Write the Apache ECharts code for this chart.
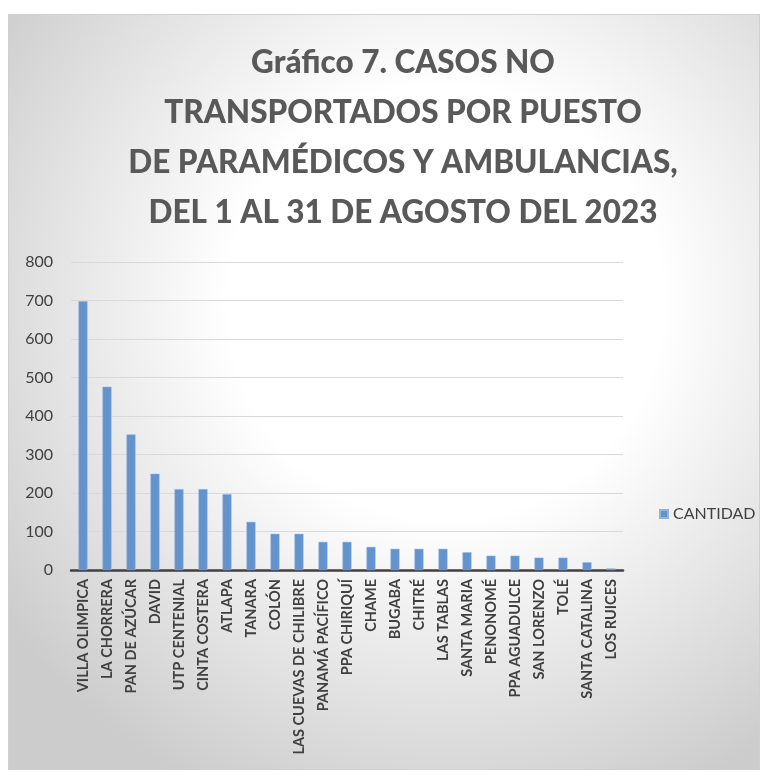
<!DOCTYPE html>
<html>
<head>
<meta charset="utf-8">
<script src="https://cdn.jsdelivr.net/npm/echarts@6/dist/echarts.min.js"></script>
<style>
  html, body { margin: 0; padding: 0; background: #ffffff; }
  #chart { position: absolute; left: 8px; top: 14px; width: 752px; height: 756px; border: 1px solid #d0d0d0; box-sizing: border-box; }
</style>
</head>
<body>
<div id="chart"></div>
<script>
// datos
const categorias = ['VILLA OLIMPICA', 'LA CHORRERA', 'PAN DE AZÚCAR', 'DAVID', 'UTP CENTENIAL', 'CINTA COSTERA',
  'ATLAPA', 'TANARA', 'COLÓN', 'LAS CUEVAS DE CHILIBRE', 'PANAMÁ PACÍFICO', 'PPA CHIRIQUÍ', 'CHAME', 'BUGABA',
  'CHITRÉ', 'LAS TABLAS', 'SANTA MARIA', 'PENONOMÉ', 'PPA AGUADULCE', 'SAN LORENZO', 'TOLÉ', 'SANTA CATALINA', 'LOS RUICES'];
const cantidad = [698, 476, 352, 250, 210, 210, 197, 125, 94, 94, 73, 73, 60, 55, 55, 55, 46, 37, 37, 32, 32, 20, 4];
const ticksY = [0, 100, 200, 300, 400, 500, 600, 700, 800];

const titulo = 'Gráfico 7. CASOS NO\nTRANSPORTADOS POR PUESTO\nDE PARAMÉDICOS Y AMBULANCIAS,\nDEL 1 AL 31 DE AGOSTO DEL 2023';

const myChart = echarts.init(document.getElementById('chart'));
const option = {
  animation: false,
  graphic: [{
    type: 'rect', z: -10, silent: true,
    shape: { x: 0, y: 0, width: 752, height: 756 },
    style: {
      fill: new echarts.graphic.RadialGradient(0.58, 0.38, 0.72, [
        { offset: 0, color: '#ffffff' },
        { offset: 0.4, color: '#ffffff' },
        { offset: 1, color: '#cccccc' }
      ])
    }
  }],
  title: {
    text: titulo,
    left: 389, top: 18, textAlign: 'center',
    textStyle: { fontFamily: 'Lato', fontWeight: 900, fontSize: 31.5, lineHeight: 50, color: '#595959' }
  },
  legend: {
    data: ['CANTIDAD'],
    left: 645, top: 486,
    itemWidth: 8, itemHeight: 8, icon: 'rect', itemGap: 5,
    textStyle: { fontFamily: 'Lato', fontSize: 16, color: '#404040' }
  },
  grid: { left: 62, top: 247, width: 552, height: 308 },
  xAxis: {
    type: 'category',
    data: categorias,
    axisTick: { show: false },
    axisLine: { lineStyle: { color: '#404040', width: 2.5 } },
    axisLabel: { rotate: 90, interval: 0, fontFamily: 'Lato', fontWeight: 'bold', fontSize: 14.5, color: '#404040', margin: 9 }
  },
  yAxis: {
    type: 'value',
    min: ticksY[0], max: ticksY[ticksY.length - 1], interval: 100,
    axisLine: { show: false },
    axisTick: { show: false },
    splitLine: { lineStyle: { color: '#d9d9d9', width: 1 } },
    axisLabel: { fontFamily: 'Lato', fontSize: 16, color: '#404040', margin: 18 }
  },
  series: [{
    name: 'CANTIDAD',
    type: 'bar',
    data: cantidad,
    barWidth: 9,
    itemStyle: { color: '#6393cc', borderColor: '#8fb3de', borderWidth: 0.5 }
  }]
};
myChart.setOption(option);
</script>
</body>
</html>
